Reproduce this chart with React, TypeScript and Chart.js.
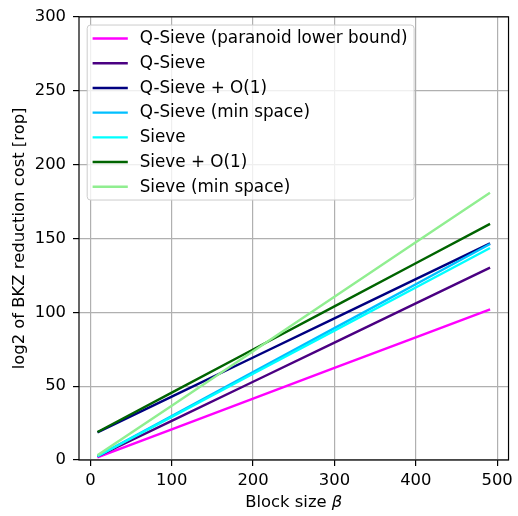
import React, { useEffect, useRef } from "react";
import { Chart, registerables } from "chart.js";

Chart.register(...registerables);

const blockSizes = [10, 100, 200, 300, 400, 490];
const qSieveParanoid = [2.1, 20.8, 41.5, 62.3, 83.0, 101.7];
const qSieve = [2.7, 26.5, 53.0, 79.5, 106.0, 129.9];
const qSieveO1 = [19.1, 42.9, 69.4, 95.9, 122.4, 146.3];
const qSieveMinSpace = [3.0, 29.8, 59.5, 89.3, 119.0, 145.8];
const sieve = [2.9, 29.2, 58.4, 87.6, 116.8, 143.1];
const sieveO1 = [19.3, 45.6, 74.8, 104.0, 133.2, 159.5];
const sieveMinSpace = [3.7, 36.8, 73.7, 110.5, 147.4, 180.5];

const seriesLabels = [
  "Q-Sieve (paranoid lower bound)",
  "Q-Sieve",
  "Q-Sieve + O(1)",
  "Q-Sieve (min space)",
  "Sieve",
  "Sieve + O(1)",
  "Sieve (min space)",
];
const seriesColors = ["#ff00ff", "#4b0082", "#000080", "#00bfff", "#00ffff", "#006400", "#90ee90"];
const seriesValues = [qSieveParanoid, qSieve, qSieveO1, qSieveMinSpace, sieve, sieveO1, sieveMinSpace];

const xTicks = [0, 100, 200, 300, 400, 500];
const yTicks = [0, 50, 100, 150, 200, 250, 300];

const FONT = "'DejaVu Sans', sans-serif";
const FS = 16.4;
const LEGEND_FS = 16.8;
const LW = 2.4;

const overlayPlugin = {
  id: "overlay",
  afterDraw(chart: any) {
    const ctx = chart.ctx as CanvasRenderingContext2D;
    const { left, top, right, bottom } = chart.chartArea;
    ctx.save();
    // spines
    ctx.strokeStyle = "#000";
    ctx.lineWidth = 1.2;
    ctx.strokeRect(left, top, right - left, bottom - top);

    // x-axis title with italic beta
    ctx.fillStyle = "#000";
    ctx.textBaseline = "middle";
    ctx.textAlign = "left";
    const part1 = "Block size ";
    const part2 = "β";
    ctx.font = `${FS}px ${FONT}`;
    const w1 = ctx.measureText(part1).width;
    ctx.font = `italic ${FS}px ${FONT}`;
    const w2 = ctx.measureText(part2).width;
    const cx = (left + right) / 2;
    const tx = cx - (w1 + w2) / 2;
    ctx.font = `${FS}px ${FONT}`;
    ctx.fillText(part1, tx, 503);
    ctx.font = `italic ${FS}px ${FONT}`;
    ctx.fillText(part2, tx + w1, 503);

    // legend
    ctx.font = `${LEGEND_FS}px ${FONT}`;
    const labels = chart.data.datasets.map((d: any) => d.label as string);
    let maxW = 0;
    labels.forEach((l: string) => {
      maxW = Math.max(maxW, ctx.measureText(l).width);
    });
    const bx = left + 8.2;
    const by = top + 8.2;
    const pad = 6.6;
    const handleLen = 32.8;
    const textPad = 13.1;
    const rowH = 24.7;
    const firstRow = 13.5;
    const bw = pad + handleLen + textPad + maxW + pad;
    const bh = firstRow + (labels.length - 1) * rowH + 13.3;
    ctx.beginPath();
    (ctx as any).roundRect(bx, by, bw, bh, 3.3);
    ctx.fillStyle = "rgba(255,255,255,0.8)";
    ctx.fill();
    ctx.strokeStyle = "#cccccc";
    ctx.lineWidth = 1;
    ctx.stroke();
    chart.data.datasets.forEach((d: any, i: number) => {
      const y = by + firstRow + i * rowH;
      ctx.beginPath();
      ctx.strokeStyle = d.borderColor;
      ctx.lineWidth = LW;
      ctx.lineCap = "square";
      ctx.moveTo(bx + pad, y);
      ctx.lineTo(bx + pad + handleLen, y);
      ctx.stroke();
      ctx.fillStyle = "#000";
      ctx.textBaseline = "middle";
      ctx.fillText(d.label, bx + pad + handleLen + textPad, y + 0.5);
    });
    ctx.restore();
  },
};

export default function App() {
  const ref = useRef<HTMLCanvasElement | null>(null);
  useEffect(() => {
    document.body.style.margin = "0";
    const canvas = ref.current!;
    const chart = new Chart(canvas, {
      type: "line",
      data: {
        datasets: seriesValues.map((vals, i) => ({
          label: seriesLabels[i],
          data: blockSizes.map((b, j) => ({ x: b, y: vals[j] })),
          borderColor: seriesColors[i],
          backgroundColor: seriesColors[i],
          borderWidth: LW,
          borderCapStyle: "square",
          pointRadius: 0,
          tension: 0,
          fill: false,
          order: seriesValues.length - 1 - i,
        })),
      },
      options: {
        responsive: false,
        animation: false,
        layout: { padding: { left: 0, right: 8.3, top: 14, bottom: 0 } },
        plugins: { legend: { display: false }, tooltip: { enabled: false } },
        scales: {
          x: {
            type: "linear",
            min: -14,
            max: 514,
            afterBuildTicks: (s: any) => {
              s.ticks = xTicks.map((v) => ({ value: v }));
            },
            afterFit: (s: any) => {
              s.height = 56;
            },
            grid: { color: "#b0b0b0", lineWidth: 1.2, tickColor: "#000", tickLength: 6, tickWidth: 1.2 },
            border: { display: false },
            ticks: {
              color: "#000",
              font: { family: FONT, size: FS },
              padding: 5,
              maxRotation: 0,
              autoSkip: false,
              callback: (v: any) => String(v),
            },
          },
          y: {
            type: "linear",
            min: 0,
            max: 300,
            afterBuildTicks: (s: any) => {
              s.ticks = yTicks.map((v) => ({ value: v }));
            },
            afterFit: (s: any) => {
              s.width = 79;
            },
            grid: { color: "#b0b0b0", lineWidth: 1.2, tickColor: "#000", tickLength: 6, tickWidth: 1.2 },
            border: { display: false },
            ticks: {
              color: "#000",
              font: { family: FONT, size: FS },
              padding: 7,
              autoSkip: false,
              callback: (v: any) => String(v),
            },
            title: {
              display: true,
              text: "log2 of BKZ reduction cost [rop]",
              color: "#000",
              font: { family: FONT, size: FS, lineHeight: 1.2 },
              padding: { top: 9.7, bottom: 0 },
            },
          },
        },
      },
      plugins: [overlayPlugin],
    } as any);
    return () => chart.destroy();
  }, []);
  return <canvas ref={ref} width={518} height={516} style={{ display: "block" }} />;
}
